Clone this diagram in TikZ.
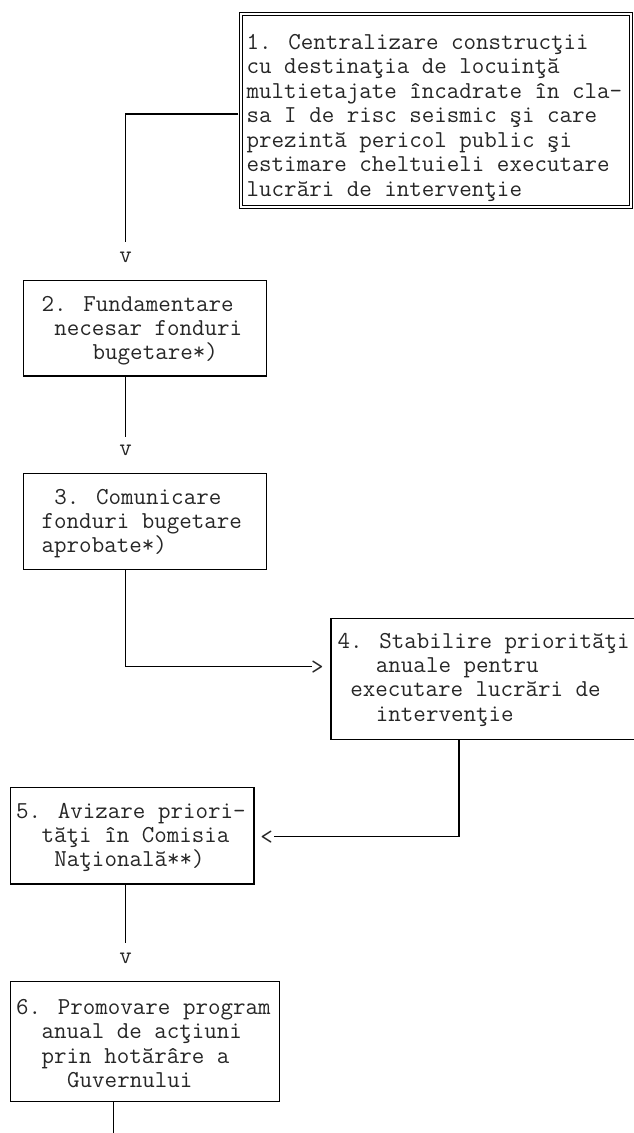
\documentclass[tikz,border=0pt]{standalone}
\usepackage{fontspec}
\begin{document}
\begin{tikzpicture}[x=1pt,y=-1pt,
  box/.style={draw=black, line width=1.1pt, inner sep=0pt, rectangle},
  conn/.style={draw=black, line width=1.1pt},
  ln/.style={anchor=base west, inner sep=0pt, font=\ttfamily\fontsize{24.3}{24.45}\selectfont, text=black!85},
  glyph/.style={anchor=base, inner sep=0pt, font=\ttfamily\fontsize{24.3}{24.45}\selectfont, text=black!85}]
\path[use as bounding box] (0,0) rectangle (634,1133);
\clip (0,0) rectangle (634,1133);

% boxes
\node[box, double, double distance=2.2pt, line width=0.9pt, minimum width=389.7pt, minimum height=192.7pt] (b1) at (436.15,110.35) {};
\node[box, minimum width=243.4pt, minimum height=95.5pt] (b2) at (145,328.25) {};
\node[box, minimum width=243.4pt, minimum height=96.4pt] (b3) at (145,521.5) {};
\node[box, minimum width=311pt, minimum height=121.2pt] (b4) at (486.5,678.9) {};
\node[box, minimum width=243.3pt, minimum height=96.7pt] (b5) at (132.35,835.65) {};
\node[box, minimum width=268.6pt, minimum height=120pt] (b6) at (145,1041.7) {};

% texts
\foreach \t [count=\i from 0] in {{1. Centralizare construcţii},{cu destinaţia de locuinţă},{multietajate încadrate în cla-},{sa I de risc seismic şi care},{prezintă pericol public şi},{estimare cheltuieli executare},{lucrări de intervenţie}}
  \node[ln] (t1-\i) at (246.5,49.5+\i*24.45) {\t};
\foreach \c/\t [count=\i from 0] in {0/{2. Fundamentare},1/{necesar fonduri},4/{bugetare*)}}
  \node[ln] (t2-\i) at (41.5+\c*12.75,311+\i*24.45) {\t};
\foreach \c/\t [count=\i from 0] in {1/{3. Comunicare},0/{fonduri bugetare},0/{aprobate*)}}
  \node[ln] (t3-\i) at (41.5+\c*12.75,504+\i*24.45) {\t};
\foreach \c/\t [count=\i from 0] in {0/{4. Stabilire priorităţi},3/{anuale pentru},1/{executare lucrări de},3/{intervenţie}}
  \node[ln] (t4-\i) at (337.5+\c*12.75,648+\i*24.45) {\t};
\foreach \c/\t [count=\i from 0] in {0/{5. Avizare priori-},2/{tăţi în Comisia},3/{Naţională**)}}
  \node[ln] (t5-\i) at (16+\c*12.75,818+\i*24.45) {\t};
\foreach \c/\t [count=\i from 0] in {0/{6. Promovare program},2/{anual de acţiuni},2/{prin hotărâre a},4/{Guvernului}}
  \node[ln] (t6-\i) at (16+\c*12.75,1014.5+\i*24.45) {\t};

% arrow glyphs
\node[glyph] (v1) at (125.7,262) {v};
\node[glyph] (v2) at (125.7,455) {v};
\node[glyph] (gt) at (317.5,674) {>};
\node[glyph] (lt) at (266.7,844) {<};
\node[glyph] (v3) at (125.7,963.3) {v};

% connectors
\coordinate (k1) at (125.7,114);
\coordinate (e1) at (125.7,242);
\draw[conn] ([xshift=-2.5pt]b1.west |- k1) -- (k1) -- (e1);

\coordinate (e2) at (125.7,436.7);
\draw[conn] (b2.south -| e2) -- (e2);

\coordinate (k3) at (125.7,666.7);
\coordinate (e3) at (311.5,666.7);
\draw[conn] (b3.south -| k3) -- (k3) -- (e3);

\coordinate (k4) at (459,836.7);
\coordinate (e4) at (273.5,836.7);
\draw[conn] (b4.south -| k4) -- (k4) -- (e4);

\coordinate (e5) at (125.7,943.3);
\draw[conn] (b5.south -| e5) -- (e5);

\coordinate (e6) at (113.3,1140);
\draw[conn] (b6.south -| e6) -- (e6);
\end{tikzpicture}
\end{document}
